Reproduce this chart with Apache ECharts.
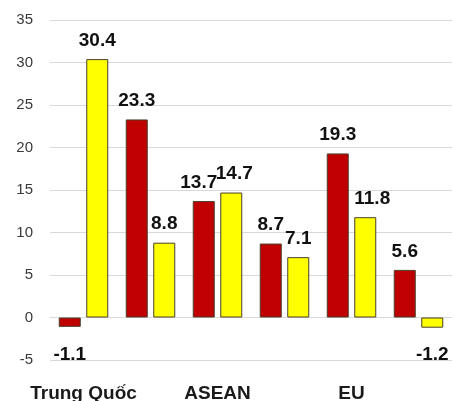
<!DOCTYPE html>
<html>
<head>
<meta charset="utf-8">
<script src="https://cdn.jsdelivr.net/npm/echarts@6/dist/echarts.min.js"></script>
<style>
  html, body { margin: 0; padding: 0; background: #ffffff; }
  #chart { width: 454px; height: 401px; }
</style>
</head>
<body>
<div id="chart"></div>
<script>
// Category labels along the x axis (only every other group is named)
const categories = ['Trung Quốc', '', 'ASEAN', '', 'EU', ''];
// Growth values (%) for the two series in each group
const redValues = [-1.1, 23.3, 13.7, 8.7, 19.3, 5.6];
const yellowValues = [30.4, 8.8, 14.7, 7.1, 11.8, -1.2];
// Value axis range and step
const yMin = -5, yMax = 35, yStep = 5;

const labelFont = { fontFamily: 'Liberation Sans, Arial, sans-serif', fontWeight: 'bold', fontSize: 19, color: '#111' };

// Small horizontal nudges so neighbouring value labels do not collide
const redNudge = { 2: -5 };
const yellowNudge = { 2: 3, 4: 7 };

function buildData(values, nudge) {
  return values.map((v, i) => {
    const label = v < 0 ? { position: 'bottom', distance: 18 } : { position: 'top', distance: 9 };
    if (nudge[i]) label.offset = [nudge[i], 0];
    return { value: v, label: label };
  });
}

function buildSeries(name, values, color, nudge) {
  return {
    name: name,
    type: 'bar',
    data: buildData(values, nudge),
    barWidth: 22,
    barGap: '25%',
    itemStyle: { color: color, borderColor: '#4a3f2a', borderWidth: 1 },
    label: Object.assign({ show: true, formatter: p => p.value.toFixed(1) }, labelFont),
    animation: false
  };
}

const chart = echarts.init(document.getElementById('chart'), null, { renderer: 'canvas' });
chart.setOption({
  backgroundColor: '#ffffff',
  animation: false,
  grid: { left: 50, right: 2, top: 20, bottom: 41, containLabel: false, outerBoundsMode: 'none' },
  xAxis: {
    type: 'category',
    data: categories,
    axisLine: { show: false },
    axisTick: { show: false },
    axisLabel: {
      interval: 0,
      margin: 24,
      fontFamily: 'Liberation Sans, Arial, sans-serif',
      fontWeight: 'bold',
      fontSize: 19,
      color: '#1a1a1a'
    }
  },
  yAxis: {
    type: 'value',
    min: yMin,
    max: yMax,
    interval: yStep,
    axisLine: { show: false },
    axisTick: { show: false },
    axisLabel: {
      margin: 17,
      fontFamily: 'Liberation Sans, Arial, sans-serif',
      fontSize: 15,
      color: '#3a3a3a'
    },
    splitLine: { lineStyle: { color: '#d9d9d9', width: 1 } }
  },
  series: [
    buildSeries('red', redValues, '#c00000', redNudge),
    buildSeries('yellow', yellowValues, '#ffff00', yellowNudge)
  ]
});
</script>
</body>
</html>
